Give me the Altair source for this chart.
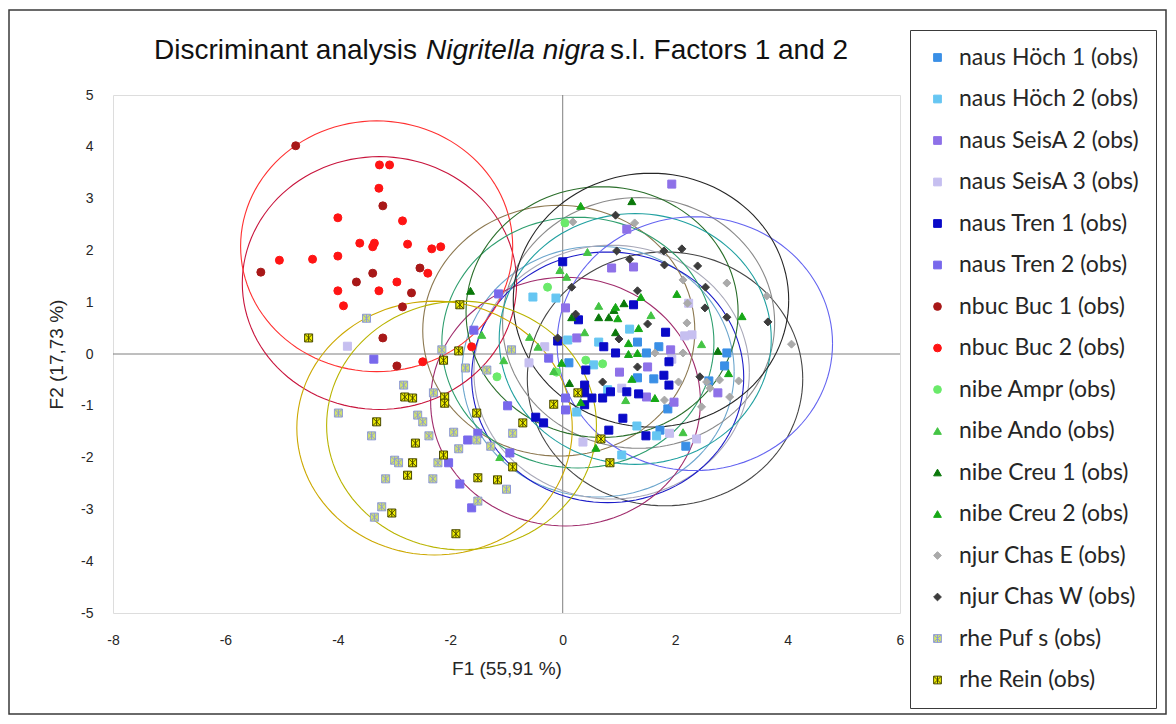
import numpy as np
import pandas as pd
import altair as alt

# ---------------- data ----------------
GROUPS = [
    "naus Höch 1 (obs)", "naus Höch 2 (obs)", "naus SeisA 2 (obs)", "naus SeisA 3 (obs)",
    "naus Tren 1 (obs)", "naus Tren 2 (obs)", "nbuc Buc 1 (obs)", "nbuc Buc 2 (obs)",
    "nibe Ampr (obs)", "nibe Ando (obs)", "nibe Creu 1 (obs)", "nibe Creu 2 (obs)",
    "njur Chas E (obs)", "njur Chas W (obs)", "rhe Puf s (obs)", "rhe Rein (obs)",
]

HOCH1_X = [1.33, 1.49, 1.71, 0.11, 1.33, 1.62, 1.87, 1.73, 2.19, 2.92, 2.88, 2.60]
HOCH1_Y = [0.23, 0.02, 0.14, -0.17, -0.46, -0.48, -1.06, -1.47, -1.78, 0.02, -0.23, -0.52]

HOCH2_X = [-0.53, -0.12, 0.09, 0.64, 1.19, 0.55, 0.80, 1.32, 1.67, 1.05, 0.25]
HOCH2_Y = [1.10, 1.08, 0.27, 0.23, 0.48, -0.21, -0.69, -1.39, -1.58, -1.95, -1.12]

SEISA2_X = [1.94, 1.14, 0.87, 1.26, 1.92, 1.51, 2.76, 1.49, 1.01, 0.25, 1.98, 0.05]
SEISA2_Y = [3.28, 2.41, 1.66, 1.68, 0.08, -0.25, -0.75, -0.83, -0.35, 0.31, -0.93, 0.89]

SEISA3_X = [2.24, 2.17, 2.30, 1.94, 1.05, 0.36, 1.90, 2.38, -0.60, -0.32, -3.83]
SEISA3_Y = [0.98, 0.35, 0.37, -0.10, -0.66, -1.70, -1.53, -1.64, -0.17, 0.14, 0.15]

TREN1_X = [0.00, 1.26, 0.28, 1.83, 0.73, 0.94, 0.41, 1.89, 1.80, 1.89, 0.39, 0.39,
           0.52, 0.39, 0.71, 0.85, 1.14, 1.35, -0.48, -0.34, 1.07, 0.82, 1.48, -0.09]
TREN1_Y = [1.78, 0.95, 0.66, 0.42, 0.14, 0.02, -0.31, -0.15, -0.41, -0.60, -0.60, -0.75,
           -0.85, -0.98, -0.85, -0.73, -0.73, -0.77, -1.22, -1.33, -1.24, -1.47, -1.58, 0.25]

TREN2_X = [-3.36, -1.58, -1.14, -0.98, -1.51, -1.69, -2.03, -0.94, -1.83, -1.62, 0.05, 0.05, -0.25]
TREN2_Y = [-0.10, 0.46, 1.16, -1.00, -1.53, -1.66, -2.10, -1.91, -2.51, -2.97, -0.85, -1.08, -0.08]

BUC1_X = [-4.75, -3.20, -5.37, -3.38, -3.67, -2.54, -2.69, -2.85, -3.20, -2.95]
BUC1_Y = [4.02, 2.86, 1.58, 1.56, 1.39, 1.66, 1.18, 0.91, 0.31, -0.23]

BUC2_X = [-3.26, -3.08, -3.27, -4.00, -2.85, -3.61, -3.35, -3.38, -2.76, -2.33, -2.17,
          -5.04, -4.45, -4.00, -2.40, -2.95, -4.00, -3.27, -3.90, -1.62, -2.49]
BUC2_Y = [3.65, 3.65, 3.20, 2.63, 2.57, 2.14, 2.14, 2.07, 2.12, 2.03, 2.07,
          1.81, 1.83, 1.89, 1.56, 1.39, 1.22, 1.22, 0.93, 0.14, -0.15]

AMPR_X = [0.04, -0.27, 0.71, -0.11, -1.17, 0.41]
AMPR_Y = [2.53, 1.29, -0.19, -0.35, -0.44, -0.12]

ANDO_X = [0.44, -0.05, 0.07, 0.64, 1.57, 0.39, 2.47, -0.16, 1.12, 2.14, -1.44, -0.59, -0.44, -1.05, -1.12]
ANDO_Y = [1.97, 1.62, 1.49, 0.93, 0.75, 0.42, 0.19, -0.33, -0.89, -1.51, 0.37, 0.33, 0.14, -0.12, -1.99]

CREU1_X = [1.23, 1.09, 0.91, 0.82, 0.64, 0.16, 0.94, 2.76, 0.12, -1.64]
CREU1_Y = [2.95, 0.98, 0.85, 0.71, 0.71, 0.71, 0.42, 0.06, -0.56, 1.22]

CREU2_X = [0.32, 2.03, 0.98, 0.94, 1.35, 3.19, 1.17, 1.33, 1.17, -0.02, 1.23, 1.64, 2.95, 0.59, 1.39, 0.32]
CREU2_Y = [2.86, 1.16, 0.69, 0.91, 0.50, 0.73, 0.00, 0.02, 0.21, -0.17, -0.48, -0.85, -0.37, -1.81, 1.10, -0.93]

CHASE_X = [1.28, 2.14, 2.92, 3.63, 2.22, 2.21, 4.07, 2.14, 1.64, 2.06, 2.56, 2.62, 2.79, 3.13, 2.97, 1.81, 2.47, 0.18]
CHASE_Y = [2.53, 1.43, 1.37, 1.12, 0.98, 0.60, 0.19, 0.02, 0.02, -0.54, -0.54, -0.66, -0.50, -0.52, -0.83, -0.89, -1.02, 2.55]

CHASW_X = [0.94, 0.96, 1.80, 2.12, 1.19, 1.81, 2.40, 2.54, 0.16, 1.33, 2.53, 2.92, 3.65, 0.23, 1.51, 1.00, -0.09, 1.33, 2.44, 0.71]
CHASW_Y = [2.68, 1.99, 1.99, 2.03, 1.83, 1.72, 1.70, 1.29, 1.29, 1.22, 0.89, 0.71, 0.62, 0.77, 0.58, 0.29, 0.31, -0.25, -0.44, -0.54]

PUFS_X = [-3.49, -2.15, -1.73, -1.35, -2.83, -2.30, -3.99, -2.58, -2.49, -3.40, -2.38, -1.94, -0.89,
          -1.85, -1.53, -1.28, -2.99, -2.92, -2.22, -3.15, -2.31, -1.00, -1.51, -3.22, -3.35, -0.91]
PUFS_Y = [0.69, 0.08, -0.27, -0.31, -0.60, -0.75, -1.14, -1.18, -1.31, -1.58, -1.58, -1.51, -1.53,
          -1.83, -1.66, -1.78, -2.05, -2.10, -2.10, -2.41, -2.41, -2.61, -2.84, -2.95, -3.15, 0.08]

REIN_X = [-4.52, -1.83, -1.85, -2.12, -2.81, -2.67, -2.10, -2.10, -1.53, -3.31, -0.71, -2.62,
          -2.12, -2.67, -2.76, -0.89, -1.51, -1.16, -3.04, -1.90, -0.16, 0.27, 0.68, 0.84]
REIN_Y = [0.31, 0.95, 0.06, -0.12, -0.83, -0.85, -0.83, -0.95, -1.14, -1.31, -1.33, -1.72,
          -1.95, -2.10, -2.34, -2.18, -2.39, -2.43, -3.07, -3.47, -0.97, -0.75, -1.64, -2.10]

SERIES_X = [HOCH1_X, HOCH2_X, SEISA2_X, SEISA3_X, TREN1_X, TREN2_X, BUC1_X, BUC2_X,
            AMPR_X, ANDO_X, CREU1_X, CREU2_X, CHASE_X, CHASW_X, PUFS_X, REIN_X]
SERIES_Y = [HOCH1_Y, HOCH2_Y, SEISA2_Y, SEISA3_Y, TREN1_Y, TREN2_Y, BUC1_Y, BUC2_Y,
            AMPR_Y, ANDO_Y, CREU1_Y, CREU2_Y, CHASE_Y, CHASW_Y, PUFS_Y, REIN_Y]

# confidence circles (centre, radius)
CIRCLE_CX = [1.82, 0.63, 1.35, 0.87, 0.80, 0.05, -3.26, -3.31, -0.07, 0.27, 0.70, 1.29, 2.35, 1.57, -2.28, -1.80]
CIRCLE_CY = [-0.48, -0.34, 0.60, -0.35, -0.45, -0.92, 1.37, 2.08, 0.45, 0.22, 0.81, 0.29, 0.20, 1.04, -1.43, -1.38]
CIRCLE_R = [2.45, 2.42, 2.42, 2.45, 2.42, 2.40, 2.44, 2.42, 2.42, 2.42, 2.42, 2.42, 2.45, 2.45, 2.45, 2.40]

# ---------------- styles ----------------
FILLS = ["#3A8FE6", "#66C6F2", "#8E71E8", "#C6BFF0", "#0A0AC8", "#7868EC", "#A81818", "#FF1414",
         "#6AEA6A", "#44C444", "#0A780A", "#16A816", "#AAAAAA", "#3C3C3C", "#D2E46A", "#F2F000"]
STROKES = ["#3A8FE6", "#66C6F2", "#8E71E8", "#C6BFF0", "#0A0AC8", "#7868EC", "#A81818", "#FF1414",
           "#6AEA6A", "#44C444", "#0A780A", "#16A816", "#AAAAAA", "#3C3C3C", "#8E9AD6", "#4A4A00"]
STAR = "M-1,-1H1V1H-1Z M-1,-1L1,1 M-1,1L1,-1 M0,-1L0,1"
SHAPES = ["square"] * 6 + ["circle"] * 3 + ["triangle-up"] * 3 + ["diamond"] * 2 + [STAR, STAR]
CIRCLE_COLORS = ["#454545", "#6CA6CD", "#8A8A8A", "#A8A8B8", "#1C1CC8", "#A02C6C", "#C8143C", "#FF3030",
                 "#8C7850", "#2E9E6E", "#2A6E2A", "#20A0A0", "#6464F0", "#262626", "#CCA800", "#B9B400"]

FONT_N = "Liberation Sans, Arial, sans-serif"
FONT_L = "Lato, Liberation Sans, sans-serif"

# ---------------- tables ----------------
pts = pd.DataFrame(
    [(g, x, y) for g, xs, ys in zip(GROUPS, SERIES_X, SERIES_Y) for x, y in zip(xs, ys)],
    columns=["group", "x", "y"],
)

theta = np.linspace(0, 2 * np.pi, 121)
rows = []
for g, cx, cy, r, c in zip(GROUPS, CIRCLE_CX, CIRCLE_CY, CIRCLE_R, CIRCLE_COLORS):
    for k, t in enumerate(theta):
        rows.append((g, k, cx + r * np.cos(t), cy + r * np.sin(t), c))
circ = pd.DataFrame(rows, columns=["group", "k", "x", "y", "ccolor"])

xs = alt.Scale(domain=[-8, 6], nice=False, zero=False)
ys = alt.Scale(domain=[-5, 5], nice=False, zero=False)

x_axis = alt.Axis(values=list(range(-8, 7, 2)), grid=False, ticks=False, domain=False,
                  labelExpr="'' + datum.value",
                  labelFont=FONT_N, labelFontSize=14, labelColor="#262626", labelPadding=20,
                  labelFlush=False, labelOverlap=False,
                  title="F1 (55,91 %)", titleFont=FONT_N, titleFontSize=19,
                  titleFontWeight="normal", titleColor="#262626", titlePadding=12)
y_axis = alt.Axis(values=list(range(-5, 6, 1)), grid=False, ticks=False, domain=False,
                  labelExpr="'' + datum.value",
                  labelFont=FONT_N, labelFontSize=14, labelColor="#262626", labelPadding=20,
                  labelFlush=False, labelOverlap=False,
                  title="F2 (17,73 %)", titleFont=FONT_N, titleFontSize=19,
                  titleFontWeight="normal", titleColor="#262626", titlePadding=14)

frame = alt.Chart(pd.DataFrame({"a": [0]})).mark_rect(
    fill="white", fillOpacity=0, stroke="#3A3A3A", strokeWidth=1.5
).encode(x=alt.value(-104), x2=alt.value(1053), y=alt.value(-85), y2=alt.value(619))

zero_v = alt.Chart(pd.DataFrame({"x": [0]})).mark_rule(color="#7F7F7F", strokeWidth=1).encode(
    x=alt.X("x:Q", scale=xs, axis=x_axis))
zero_h = alt.Chart(pd.DataFrame({"y": [0]})).mark_rule(color="#7F7F7F", strokeWidth=1).encode(
    y=alt.Y("y:Q", scale=ys, axis=y_axis))

circles = alt.Chart(circ).mark_line(strokeWidth=1.1).encode(
    x=alt.X("x:Q", scale=xs, axis=x_axis),
    y=alt.Y("y:Q", scale=ys, axis=y_axis),
    detail="group:N",
    order="k:Q",
    color=alt.Color("ccolor:N", scale=None),
)

legend = alt.Legend(orient="none", legendX=797, legendY=-65, title=None,
                    labelFont=FONT_L, labelFontSize=23, labelColor="#262626", labelLimit=400,
                    symbolSize=60, symbolStrokeWidth=1, rowPadding=17.5, padding=16,
                    labelOffset=10, strokeColor="#3A3A3A", fillColor="white")

points = alt.Chart(pts).mark_point(filled=True, size=64, opacity=1, strokeWidth=1).encode(
    x=alt.X("x:Q", scale=xs, axis=x_axis),
    y=alt.Y("y:Q", scale=ys, axis=y_axis),
    fill=alt.Fill("group:N", scale=alt.Scale(domain=GROUPS, range=FILLS), legend=legend),
    stroke=alt.Stroke("group:N", scale=alt.Scale(domain=GROUPS, range=STROKES), legend=legend),
    shape=alt.Shape("group:N", scale=alt.Scale(domain=GROUPS, range=SHAPES), legend=legend),
)

tdf = pd.DataFrame({"a": [0]})
t1 = alt.Chart(tdf).mark_text(text="Discriminant analysis", font=FONT_N, fontSize=28,
                              align="right", baseline="alphabetic", color="#111111").encode(
    x=alt.value(304), y=alt.value(-36))
t2 = alt.Chart(tdf).mark_text(text="Nigritella nigra", font=FONT_N, fontSize=28, fontStyle="italic",
                              align="left", baseline="alphabetic", color="#111111").encode(
    x=alt.value(313), y=alt.value(-36))
t3 = alt.Chart(tdf).mark_text(text="s.l. Factors 1 and 2", font=FONT_N, fontSize=28,
                              align="left", baseline="alphabetic", color="#111111").encode(
    x=alt.value(497), y=alt.value(-36))

chart = alt.layer(frame, zero_v, zero_h, circles, points, t1, t2, t3).properties(
    width=787, height=518,
    padding={"left": 105, "top": 87, "right": 268, "bottom": 103},
    autosize=alt.AutoSizeParams(type="none"),
).configure_view(stroke="#A8A8A8", strokeWidth=1.5).configure(background="white")

chart.save("out.html", embed_options={"renderer": "svg", "actions": False})
